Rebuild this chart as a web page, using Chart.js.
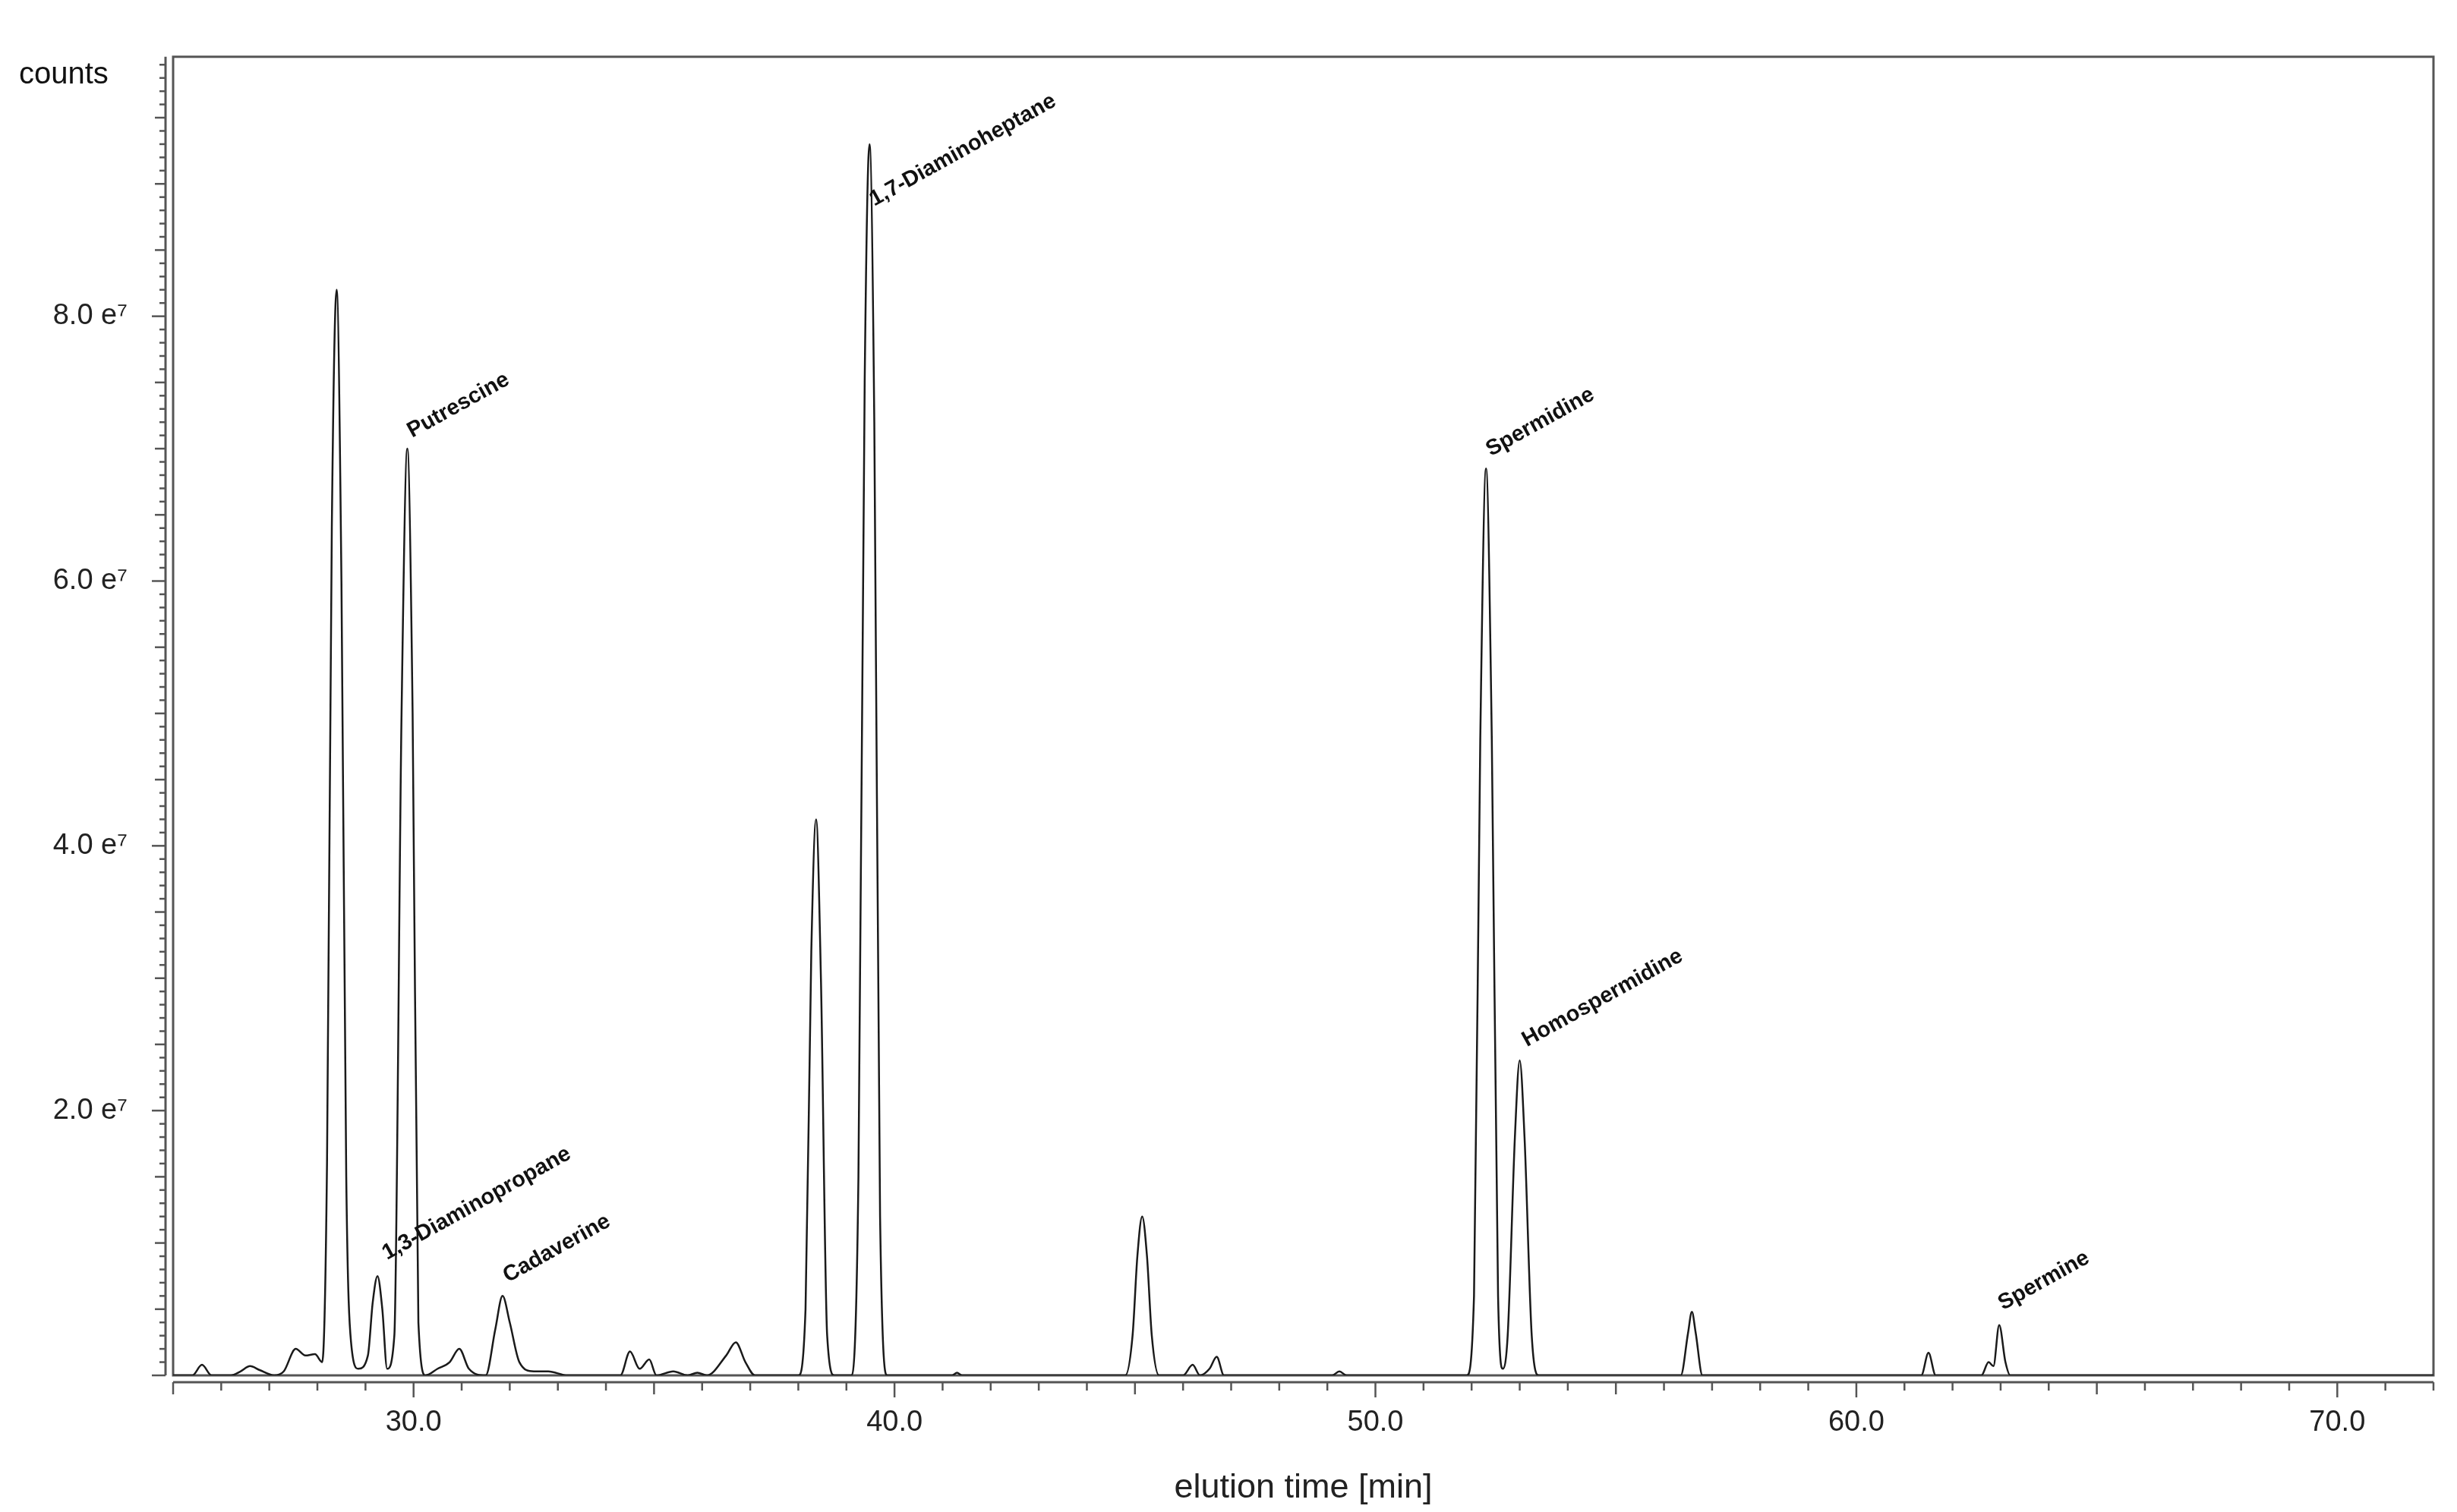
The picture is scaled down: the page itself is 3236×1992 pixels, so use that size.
<!DOCTYPE html>
<html><head><meta charset="utf-8">
<script src="https://cdn.jsdelivr.net/npm/chart.js@4/dist/chart.umd.min.js"></script>
<style>html,body{margin:0;padding:0;background:#fff}#c{display:block}</style>
</head><body>
<canvas id="c" width="3236" height="1992"></canvas>
<script>
// elution time [min]
const times = [25.0,25.4,25.6,25.8,26.2,26.4,26.6,26.8,27.1,27.3,27.55,27.75,27.95,28.1,28.2,28.3,28.4,28.5,28.6,28.7,28.85,29.05,29.15,29.25,29.35,29.45,29.6,29.75,29.87,29.98,30.1,30.25,30.5,30.75,30.95,31.15,31.5,31.7,31.85,32.0,32.2,32.5,32.8,33.2,34.3,34.5,34.7,34.9,35.05,35.4,35.7,35.9,36.1,36.5,36.7,36.9,37.1,38.0,38.15,38.27,38.37,38.47,38.6,38.75,39.1,39.25,39.38,39.48,39.58,39.7,39.85,41.2,41.3,41.4,44.8,44.95,45.05,45.15,45.25,45.35,45.5,46.0,46.2,46.35,46.55,46.7,46.85,49.1,49.25,49.4,51.9,52.05,52.18,52.3,52.42,52.55,52.65,52.75,52.9,53.0,53.1,53.25,53.4,56.35,56.5,56.58,56.66,56.8,61.35,61.5,61.65,62.6,62.75,62.85,62.97,63.1,63.2,72.0];
// counts in units of 1e7
const counts = [0,0,0.08,0,0,0.03,0.07,0.04,0,0.03,0.2,0.15,0.16,0.1,1.6,6.4,8.2,6.0,1.5,0.25,0.05,0.15,0.55,0.75,0.5,0.05,0.3,5.0,7.0,5.0,0.4,0,0.05,0.1,0.2,0.05,0,0.35,0.6,0.4,0.1,0.03,0.03,0,0,0.18,0.05,0.12,0,0.03,0,0.02,0,0.15,0.25,0.1,0,0,0.5,3.2,4.2,3.0,0.3,0,0,1.5,7.5,9.3,7.2,1.2,0,0,0.02,0,0,0.3,0.9,1.2,0.9,0.3,0,0,0.08,0,0.05,0.14,0,0,0.03,0,0,0.6,4.8,6.85,4.8,0.6,0.05,0.3,1.8,2.38,1.8,0.3,0,0,0.32,0.48,0.32,0,0,0.17,0,0,0.1,0.07,0.38,0.1,0,0];
const xTickLabels = [30,40,50,60,70];
const yTickLabels = [2,4,6,8];
const peakNames = ["Putrescine","1,7-Diaminoheptane","1,3-Diaminopropane","Cadaverine","Spermidine","Homospermidine","Spermine"];
const peakLabelX = [29.97,39.58,29.45,31.96,52.4,53.15,63.05];
const peakLabelY = [7.08,8.83,0.87,0.7,6.94,2.48,0.49];

const FONT = "'Liberation Sans', Arial, sans-serif";
const deco = {
  id:'deco',
  beforeDatasetsDraw(ch){
    const c=ch.ctx, a=ch.chartArea, xs=ch.scales.x, ys=ch.scales.y;
    c.save();
    c.strokeStyle='#555'; c.lineWidth=3;
    c.strokeRect(a.left,a.top,a.right-a.left,a.bottom-a.top);
    // y axis
    const ax=a.left-10;
    c.beginPath(); c.moveTo(ax,a.top); c.lineTo(ax,a.bottom); c.stroke();
    c.lineWidth=2.5;
    for(let i=0;i<=99;i++){
      const v=i/10; const py=ys.getPixelForValue(v); if(py<a.top-1) break;
      const len = i%20===0?18:(i%5===0?14:8);
      c.beginPath(); c.moveTo(ax,py); c.lineTo(ax-len,py); c.stroke();
    }
    // x axis
    const ay=a.bottom+9;
    c.lineWidth=3;
    c.beginPath(); c.moveTo(a.left,ay); c.lineTo(a.right,ay); c.stroke();
    c.lineWidth=2.5;
    for(let t=25;t<=72;t++){
      const px=xs.getPixelForValue(t);
      const len = t%10===0?20:(t%5===0?16:11);
      c.beginPath(); c.moveTo(px,ay); c.lineTo(px,ay+len); c.stroke();
    }
    c.restore();
  },
  afterDatasetsDraw(ch){
    const c=ch.ctx, xs=ch.scales.x, ys=ch.scales.y;
    c.save();
    c.fillStyle='#111'; c.font='bold 29px '+FONT; c.textBaseline='alphabetic';
    peakNames.forEach((n,i)=>{
      c.save();
      c.translate(xs.getPixelForValue(peakLabelX[i]), ys.getPixelForValue(peakLabelY[i]));
      c.rotate(-29*Math.PI/180);
      c.fillText(n,0,0);
      c.restore();
    });
    c.font='40px '+FONT; c.fillStyle='#111';
    c.fillText('counts',25,110);
    c.restore();
  }
};

new Chart(document.getElementById('c'),{
  type:'line',
  data:{datasets:[{data:times.map((t,i)=>({x:t,y:counts[i]})),borderColor:'#1a1a1a',borderWidth:2.5,pointRadius:0,fill:false,cubicInterpolationMode:'monotone'}]},
  options:{
    responsive:false,animation:false,devicePixelRatio:1,
    layout:{padding:{top:42,right:31,left:0,bottom:0}},
    plugins:{legend:{display:false},tooltip:{enabled:false}},
    scales:{
      x:{type:'linear',min:25,max:72,
        afterFit(s){s.height=180;},
        afterBuildTicks(s){s.ticks=xTickLabels.map(v=>({value:v}));},
        grid:{display:false},border:{display:false},
        ticks:{font:{size:38,family:FONT},color:'#222',padding:32,maxRotation:0,callback:v=>v.toFixed(1)},
        title:{display:true,text:'elution time [min]',font:{size:45,family:FONT},color:'#222',padding:{top:10}}
      },
      y:{type:'linear',min:0,max:9.96,
        afterFit(s){s.width=228;},
        afterBuildTicks(s){s.ticks=yTickLabels.map(v=>({value:v}));},
        grid:{display:false},border:{display:false},
        ticks:{font:{size:38,family:FONT},color:'#222',padding:52,callback:v=>v.toFixed(1)+' e⁷'}
      }
    }
  },
  plugins:[deco]
});
</script>
</body></html>
